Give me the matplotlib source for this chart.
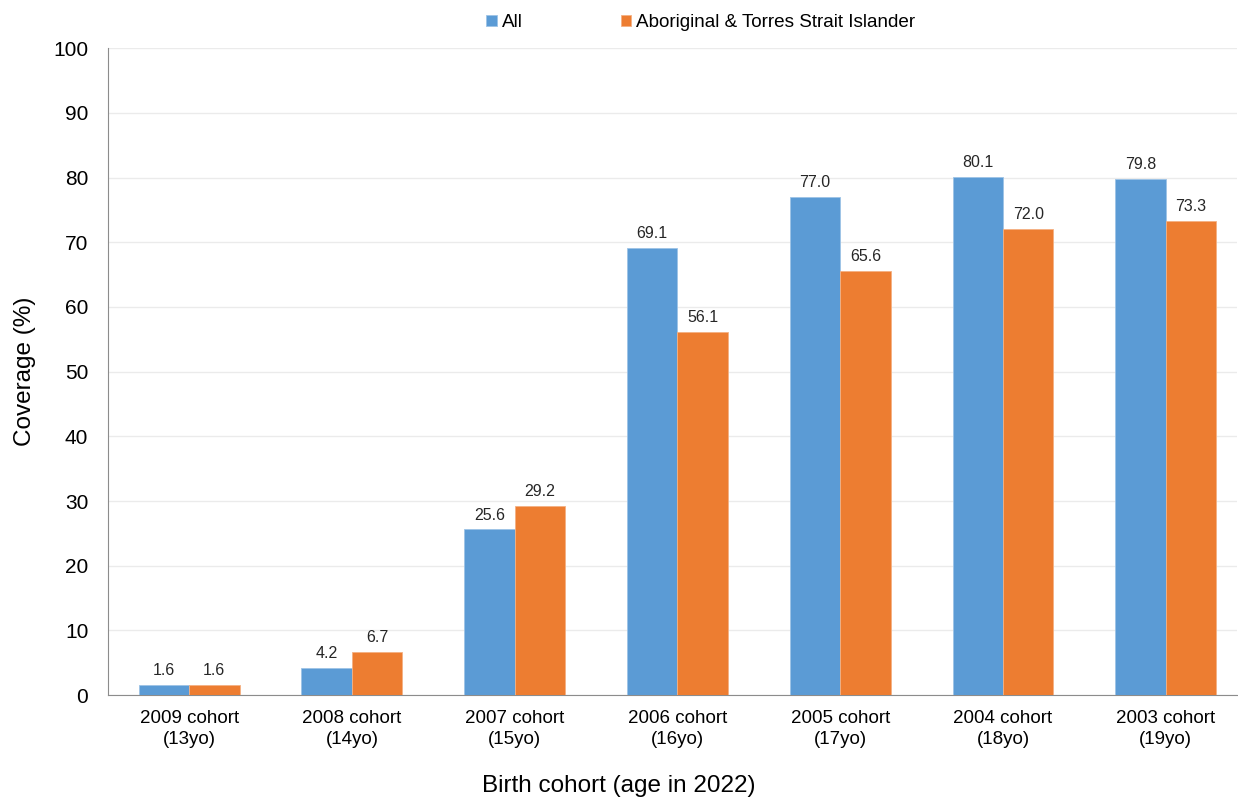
import matplotlib.pyplot as plt
import numpy as np

plt.rcParams['font.family'] = ['Liberation Sans', 'DejaVu Sans']

cohorts = ['2009 cohort\n(13yo)', '2008 cohort\n(14yo)', '2007 cohort\n(15yo)',
           '2006 cohort\n(16yo)', '2005 cohort\n(17yo)', '2004 cohort\n(18yo)',
           '2003 cohort\n(19yo)']
all_cov = [1.6, 4.2, 25.6, 69.1, 77.0, 80.1, 79.8]
atsi_cov = [1.6, 6.7, 29.2, 56.1, 65.6, 72.0, 73.3]
series_names = ['All', 'Aboriginal & Torres Strait Islander']

blue = '#5B9BD5'
orange = '#ED7D31'

fig = plt.figure(figsize=(12.38, 8.05), dpi=100)
ax = fig.add_axes([0.087, 0.1366, 0.912, 0.8034])

x = np.arange(len(cohorts))
w = 0.31
b1 = ax.bar(x - w/2, all_cov, w, color=blue, edgecolor='#9DC3E6', linewidth=0.6,
            label=series_names[0], zorder=3)
b2 = ax.bar(x + w/2, atsi_cov, w, color=orange, edgecolor='#F4B183', linewidth=0.6,
            label=series_names[1], zorder=3)

for bars in (b1, b2):
    ax.bar_label(bars, fmt='%.1f', padding=5, fontsize=11.5, color='#262626')

ax.set_xlim(-0.5, 6.436)
ax.set_ylim(0, 100)
ax.set_yticks(range(0, 101, 10))
ax.set_xticks(x)
ax.set_xticklabels(cohorts, fontsize=13.5, linespacing=1.3)
ax.tick_params(axis='y', labelsize=15, length=0, pad=14)
ax.tick_params(axis='x', length=0, pad=11)
ax.yaxis.grid(True, color='#EBEBEB', linewidth=1, zorder=0)

for s in ('top', 'right'):
    ax.spines[s].set_visible(False)
ax.spines['left'].set_color('#8C8C8C')
ax.spines['bottom'].set_color('#8C8C8C')

ax.set_ylabel('Coverage (%)', fontsize=17.5, labelpad=12)
fig.text(0.5, 0.016, 'Birth cohort (age in 2022)', fontsize=17.5,
         ha='center', va='baseline')

fig.legend(handles=[b1, b2], labels=series_names, loc='center',
           bbox_to_anchor=(0.566, 0.972), ncol=2, frameon=False, fontsize=13.6,
           handlelength=0.55, handleheight=0.55, handletextpad=0.25,
           columnspacing=5.2, borderpad=0)

fig.savefig('out.png', dpi=100)
